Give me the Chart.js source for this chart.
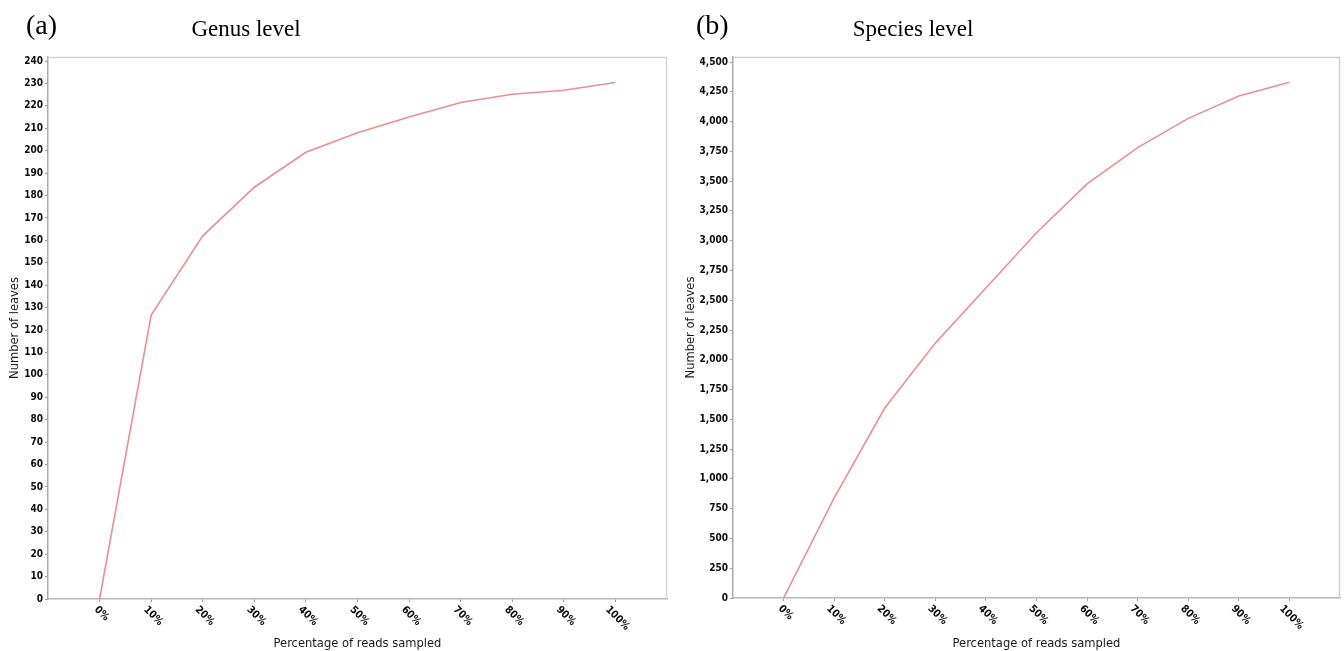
<!DOCTYPE html>
<html>
<head>
<meta charset="utf-8">
<title>Rarefaction curves</title>
<script src="https://cdn.jsdelivr.net/npm/chart.js@4.4.1/dist/chart.umd.min.js"></script>
<style>
    body { margin: 0; background: #fff; }
    .panel { position: absolute; top: 0; width: 672px; height: 651px; }
    #panel-a { left: 0; }
    #panel-b { left: 672px; }
</style>
</head>
<body>
<div class="panel" id="panel-a"><canvas id="genus-chart" width="672" height="651"></canvas></div>
<div class="panel" id="panel-b"><canvas id="species-chart" width="672" height="651"></canvas></div>
<script>
// Percentage of reads sampled
const xPercent = [0, 10, 20, 30, 40, 50, 60, 70, 80, 90, 100];

// Number of leaves
const genusLeaves = [0, 126.7, 162, 183.7, 199.3, 208, 215, 221.5, 225.2, 227, 230.4];
const speciesLeaves = [0, 840, 1595, 2140, 2602, 3067, 3476, 3781, 4027, 4214, 4330];

// Y tick labels
const genusTicks = [0, 10, 20, 30, 40, 50, 60, 70, 80, 90, 100, 110, 120, 130, 140, 150,
    160, 170, 180, 190, 200, 210, 220, 230, 240];
const speciesTicks = [0, 250, 500, 750, 1000, 1250, 1500, 1750, 2000, 2250, 2500, 2750,
    3000, 3250, 3500, 3750, 4000, 4250, 4500];

const SANS = '"DejaVu Sans Condensed", "DejaVu Sans", sans-serif';
const SERIF = '"Liberation Serif", "DejaVu Serif", serif';
const LINE_COLOR = '#ec8e93';

/**
 * Draws the plot frame, the slanted x tick labels and the panel headings
 */
const frameAndLabels = {
    id: 'frameAndLabels',
    afterDraw(chart, args, opts) {
        const ctx = chart.ctx;
        const area = chart.chartArea;
        ctx.save();

        // top and right frame lines
        ctx.strokeStyle = '#d2d2d2';
        ctx.lineWidth = 1.5;
        ctx.beginPath();
        ctx.moveTo(area.left, area.top + 0.5);
        ctx.lineTo(area.right - 0.5, area.top + 0.5);
        ctx.lineTo(area.right - 0.5, area.bottom);
        ctx.stroke();

        // x tick labels, turned 45 degrees clockwise
        const xScale = chart.scales.x;
        ctx.fillStyle = '#0a0a0a';
        ctx.font = 'bold 10.5px ' + SANS;
        ctx.textAlign = 'center';
        ctx.textBaseline = 'middle';
        xPercent.forEach(v => {
            const text = v + '%';
            const half = ctx.measureText(text).width / 2;
            const px = xScale.getPixelForValue(v);
            ctx.save();
            ctx.translate(px + 2, area.bottom + 9 + half * Math.SQRT1_2);
            ctx.rotate(Math.PI / 4);
            ctx.fillText(text, 0, 0);
            ctx.restore();
        });

        // panel letter and heading
        ctx.fillStyle = '#000';
        ctx.textBaseline = 'alphabetic';
        ctx.textAlign = 'left';
        ctx.font = '28px ' + SERIF;
        ctx.fillText(opts.letter, opts.letterX, 34);
        ctx.textAlign = 'center';
        ctx.font = '23px ' + SERIF;
        ctx.fillText(opts.title, opts.titleX, 36);

        ctx.restore();
    }
};

/**
 * Build one rarefaction panel
 */
function makePanel(canvasId, values, ticks, settings) {
    const ctx = document.getElementById(canvasId).getContext('2d');
    return new Chart(ctx, {
        type: 'line',
        data: {
            datasets: [{
                data: xPercent.map((x, i) => ({ x: x, y: values[i] })),
                borderColor: LINE_COLOR,
                borderWidth: 1.6,
                pointRadius: 0,
                fill: false,
                tension: 0
            }]
        },
        options: {
            responsive: false,
            animation: false,
            layout: {
                padding: { left: 0, right: settings.padRight, top: 57, bottom: 0 }
            },
            plugins: {
                legend: { display: false },
                tooltip: { enabled: false },
                frameAndLabels: {
                    letter: settings.letter,
                    letterX: settings.letterX,
                    title: settings.title,
                    titleX: settings.titleX
                }
            },
            scales: {
                x: {
                    type: 'linear',
                    min: -10,
                    max: 110,
                    afterBuildTicks: scale => {
                        scale.ticks = xPercent.map(v => ({ value: v }));
                    },
                    afterFit: scale => {
                        scale.height = settings.xHeight;
                    },
                    ticks: { display: false },
                    grid: { drawOnChartArea: false, drawTicks: true, tickLength: 3, tickColor: '#999' },
                    border: { color: '#b8b8b8', width: 1.5 },
                    title: {
                        display: true,
                        text: 'Percentage of reads sampled',
                        color: '#1a1a1a',
                        font: { family: SANS, size: 12.8 },
                        padding: { top: 0, bottom: 0 }
                    }
                },
                y: {
                    min: 0,
                    max: settings.yMax,
                    afterBuildTicks: scale => {
                        scale.ticks = ticks.map(v => ({ value: v }));
                    },
                    afterFit: scale => {
                        scale.width = settings.yWidth;
                    },
                    ticks: {
                        autoSkip: false,
                        color: '#0a0a0a',
                        padding: 2,
                        font: { family: SANS, size: 10, weight: 'bold' },
                        callback: v => v.toLocaleString('en-US')
                    },
                    grid: { drawOnChartArea: false, drawTicks: true, tickLength: 3, tickColor: '#999' },
                    border: { color: '#aaaaaa', width: 1.5 },
                    title: {
                        display: true,
                        text: 'Number of leaves',
                        color: '#1a1a1a',
                        font: { family: SANS, size: 12.8 },
                        padding: { top: settings.yTitlePad, bottom: 0 }
                    }
                }
            }
        },
        plugins: [frameAndLabels]
    });
}

document.addEventListener('DOMContentLoaded', function() {
    makePanel('genus-chart', genusLeaves, genusTicks, {
        letter: '(a)', letterX: 26, title: 'Genus level', titleX: 246,
        yMax: 241.8, yWidth: 48, xHeight: 52, padRight: 5, yTitlePad: 7
    });
    makePanel('species-chart', speciesLeaves, speciesTicks, {
        letter: '(b)', letterX: 24, title: 'Species level', titleX: 241,
        yMax: 4542, yWidth: 61, xHeight: 53, padRight: 4, yTitlePad: 11
    });
});
</script>
</body>
</html>
